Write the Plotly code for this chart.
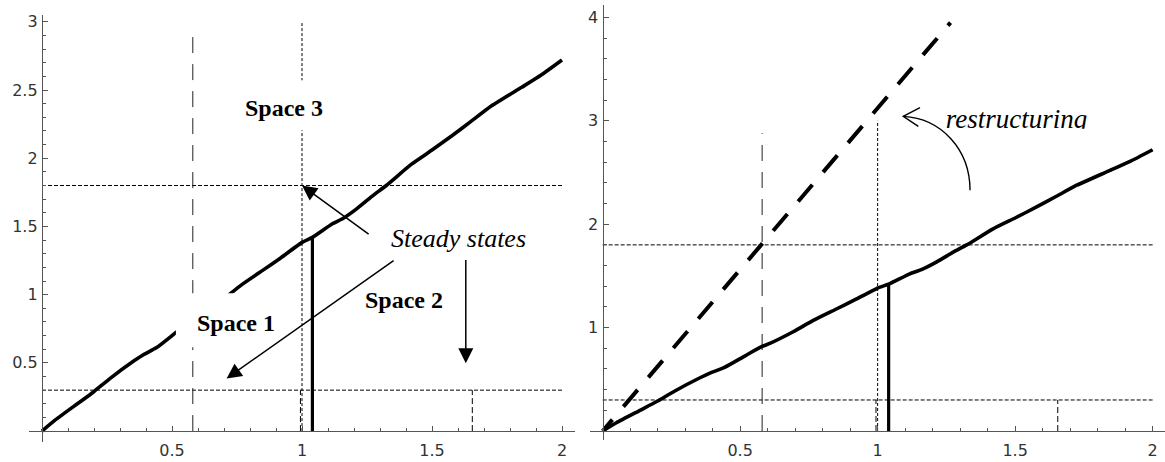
import plotly.graph_objects as go

W, H = 1165, 462

# Solid path of the economy (same path in both panels)
path_x = [0, 0.05, 0.136, 0.197, 0.261, 0.354, 0.39, 0.441, 0.518, 0.578, 0.608,
          0.693, 0.766, 0.85, 0.911, 1.002, 1.04, 1.117, 1.159, 1.215, 1.275, 1.324,
          1.42, 1.5, 1.578, 1.65, 1.724, 1.845, 1.92, 2.0]
path_y = [0, 0.08, 0.2, 0.285, 0.385, 0.515, 0.56, 0.612, 0.727, 0.815, 0.847,
          0.96, 1.07, 1.18, 1.26, 1.385, 1.42, 1.52, 1.56, 1.636, 1.73, 1.80,
          1.955, 2.06, 2.167, 2.27, 2.377, 2.52, 2.61, 2.72]

# Path after restructuring (right panel, dashed)
restr_x = [0.0, 1.265]
restr_y = [0.0, 3.95]

# Horizontal reference levels (both panels)
level_y = [0.3, 1.8]
level_span = [0.0, 2.0]

# Vertical markers
thresh_x = 0.58
thresh_top = [2.95, 2.88]       # left, right panel
steady_x = 1.0
steady_top = 3.0
jump_x = 1.04
jump_y = 1.42
low_x = [0.994, 1.655]
low_top = 0.3

# Tick labels
x_ticks = [0.5, 1, 1.5, 2]
x_tick_text = ["0.5", "1", "1.5", "2"]
y_ticks_left = [0.5, 1, 1.5, 2, 2.5, 3]
y_tick_text_left = ["0.5", "1", "1.5", "2", "2.5", "3"]
y_ticks_right = [1, 2, 3, 4]
y_tick_text_right = ["1", "2", "3", "4"]

# Panel geometry (paper fractions) and ranges
panels = [
    dict(xdom=[29 / W, 575 / W], xr=[-0.05, 2.05],
         ydom=[1 - 442 / H, 1 - 15 / H], yr=[-0.08, 3.05]),
    dict(xdom=[590 / W, 1.0], xr=[-0.046, 2.045],
         ydom=[1 - 440 / H, 1 - 5 / H], yr=[-0.087, 4.12]),
]

fig = go.Figure()


def seg(xs, ys, xa, ya, width, dash="solid", color="black"):
    fig.add_trace(go.Scatter(x=xs, y=ys, xaxis=xa, yaxis=ya, mode="lines",
                             line=dict(color=color, width=width, dash=dash),
                             hoverinfo="skip", showlegend=False))


for i, (xa, ya) in enumerate([("x", "y"), ("x2", "y2")]):
    for ly in level_y:
        seg(level_span, [ly, ly], xa, ya, 1, "4px,2px")
    seg([thresh_x, thresh_x], [0, thresh_top[i]], xa, ya, 1, "16px,11px", "#222")
    seg([steady_x, steady_x], [0, steady_top], xa, ya, 1, "3px,2px")
    for lx in low_x:
        seg([lx, lx], [0, low_top], xa, ya, 1, "6px,3px")
    fig.add_trace(go.Scatter(x=path_x, y=path_y, xaxis=xa, yaxis=ya, mode="lines",
                             line=dict(color="black", width=3.6, shape="spline",
                                       smoothing=0.5),
                             hoverinfo="skip", showlegend=False))
    seg([jump_x, jump_x], [0, jump_y], xa, ya, 3.2)

# restructured path (thick dashes)
restr_dash = "15px,17px," + ",".join(["22px,16.5px"] * 16)
seg(restr_x, restr_y, "x2", "y2", 4, restr_dash)

# italic label, drawn as a trace so the box above can trim it
fig.add_trace(go.Scatter(x=[1.505], y=[3.0], xaxis="x2", yaxis="y2", mode="text",
                         text=["<i>restructuring</i>"], textposition="middle center",
                         textfont=dict(family="Liberation Serif", size=27, color="black"),
                         hoverinfo="skip", showlegend=False))

tick_font = dict(family="DejaVu Sans", size=16, color="#333")
axis_common = dict(showgrid=False, zeroline=False, showline=True, linecolor="#555",
                   linewidth=1.3, ticks="inside", ticklen=5, tickcolor="#555",
                   tickwidth=1, tickfont=tick_font, tickmode="array", automargin=False)

layout_axes = {}
for i, p in enumerate(panels):
    sfx = "" if i == 0 else "2"
    ypos = p["ydom"][0] + (0 - p["yr"][0]) / (p["yr"][1] - p["yr"][0]) * (p["ydom"][1] - p["ydom"][0])
    xpos = p["xdom"][0] + (0 - p["xr"][0]) / (p["xr"][1] - p["xr"][0]) * (p["xdom"][1] - p["xdom"][0])
    layout_axes["xaxis" + sfx] = dict(
        axis_common, domain=p["xdom"], range=p["xr"], anchor="free", position=ypos,
        tickvals=x_ticks, ticktext=x_tick_text, ticklabelstandoff=5,
        minor=dict(dtick=0.1, tick0=0, ticklen=3, tickcolor="#555", ticks="inside"))
    yt = y_ticks_left if i == 0 else y_ticks_right
    ytt = y_tick_text_left if i == 0 else y_tick_text_right
    layout_axes["yaxis" + sfx] = dict(
        axis_common, domain=p["ydom"], range=p["yr"], anchor="free", position=xpos,
        tickvals=yt, ticktext=ytt, ticklabelstandoff=1,
        minor=dict(dtick=0.1 if i == 0 else 0.2, tick0=0, ticklen=3,
                   tickcolor="#555", ticks="inside"))

shapes = [
    # white label boxes (left panel)
    dict(type="rect", xref="x", yref="y", x0=0.762, x1=1.108, y0=2.205, y1=2.571,
         fillcolor="white", line=dict(width=0), layer="above"),
    dict(type="rect", xref="x", yref="y", x0=0.515, x1=0.9, y0=0.615, y1=1.011,
         fillcolor="white", line=dict(width=0), layer="above"),
    # band trimming the foot of the italic label (right panel)
    dict(type="rect", xref="x2", yref="y2", x0=1.208, x1=1.808, y0=2.763, y1=2.923,
         fillcolor="white", line=dict(width=0), layer="above"),
    # curved arrow and its open head
    dict(type="path", xref="x2", yref="y2",
         path="M 1.336,2.329 C 1.336,2.725 1.231,3.024 1.093,3.043",
         line=dict(color="black", width=1.4), layer="above"),
    dict(type="path", xref="x2", yref="y2",
         path="M 1.154,3.128 L 1.093,3.043 L 1.148,2.947",
         line=dict(color="black", width=1.4), layer="above"),
]

serif = "Liberation Serif"
annotations = [
    dict(x=0.931, y=2.366, xref="x", yref="y", text="<b>Space 3</b>", showarrow=False,
         font=dict(family=serif, size=24, color="black")),
    dict(x=0.746, y=0.791, xref="x", yref="y", text="<b>Space 1</b>", showarrow=False,
         font=dict(family=serif, size=24, color="black")),
    dict(x=1.392, y=0.96, xref="x", yref="y", text="<b>Space 2</b>", showarrow=False,
         font=dict(family=serif, size=24, color="black")),
    dict(x=1.602, y=1.414, xref="x", yref="y", text="<i>Steady states</i>", showarrow=False,
         font=dict(family=serif, size=26, color="black")),
]
arrow_common = dict(xref="x", yref="y", axref="x", ayref="y", text="", showarrow=True,
                    arrowhead=2, arrowsize=2, arrowwidth=1.5, arrowcolor="black",
                    standoff=0, startstandoff=0)
for (tx, ty, hx, hy) in [(1.262, 1.436, 1.0, 1.8),
                         (1.358, 1.258, 0.71, 0.386),
                         (1.63, 1.265, 1.63, 0.497)]:
    annotations.append(dict(arrow_common, x=hx, y=hy, ax=tx, ay=ty))

fig.update_layout(
    width=W, height=H, margin=dict(l=0, r=0, t=0, b=0),
    paper_bgcolor="white", plot_bgcolor="white", showlegend=False,
    shapes=shapes, annotations=annotations, **layout_axes)

fig.write_html("out.html")
